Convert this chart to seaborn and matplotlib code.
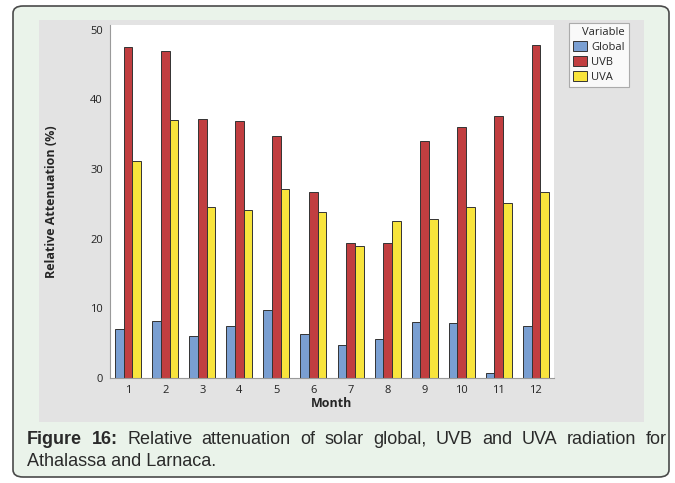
import pandas as pd
import seaborn as sns
import matplotlib.pyplot as plt
from matplotlib.patches import FancyBboxPatch, Rectangle

# Data
months = [1, 2, 3, 4, 5, 6, 7, 8, 9, 10, 11, 12]
global_att = [7.0, 8.2, 6.0, 7.4, 9.8, 6.3, 4.7, 5.6, 8.0, 7.9, 0.7, 7.5]
uvb_att = [47.5, 46.9, 37.2, 36.9, 34.7, 26.7, 19.4, 19.4, 34.1, 36.0, 37.6, 47.8]
uva_att = [31.2, 37.1, 24.6, 24.2, 27.2, 23.9, 19.0, 22.6, 22.9, 24.6, 25.1, 26.7]
variables = ["Global", "UVB", "UVA"]
colors = ["#7a9fd2", "#c13e40", "#f8e43c"]

df = pd.DataFrame({
    "Month": months * 3,
    "Variable": [v for v in variables for _ in months],
    "Value": global_att + uvb_att + uva_att,
})

sns.set_style("white")
plt.rcParams['font.family'] = ['Open Sans', 'DejaVu Sans']

W, H = 675, 483
fig = plt.figure(figsize=(W / 100, H / 100), dpi=100)
fig.patch.set_facecolor("white")

# outer rounded frame and grey chart panel
frame = FancyBboxPatch((13 / W, 6 / H), 656 / W, 471 / H,
                       boxstyle="round,pad=0,rounding_size=0.015",
                       transform=fig.transFigure, facecolor="#eaf3ea",
                       edgecolor="#4a4a4a", linewidth=1.2, zorder=0)
fig.patches.append(frame)
panel = Rectangle((39 / W, 1 - 422 / H), 605 / W, 402 / H,
                  transform=fig.transFigure, facecolor="#e3e3e3",
                  edgecolor="none", zorder=1)
fig.patches.append(panel)

ax = fig.add_axes([110 / W, 1 - 378 / H, 444 / W, 353 / H])
ax.set_zorder(2)
sns.barplot(data=df, x="Month", y="Value", hue="Variable", hue_order=variables,
            palette=colors, width=0.7, edgecolor="#333333", linewidth=0.7,
            saturation=1, ax=ax)

ax.set_ylim(0, 50.7)
ax.set_xlim(-0.49, 11.49)
ax.set_yticks([0, 10, 20, 30, 40, 50])
ax.set_facecolor("white")
for s in ["top", "right"]:
    ax.spines[s].set_visible(False)
for s in ["left", "bottom"]:
    ax.spines[s].set_color("#9a9a9a")
    ax.spines[s].set_linewidth(0.8)
ax.tick_params(axis="both", direction="out", length=3, width=0.7,
               color="#9a9a9a", labelsize=8, labelcolor="#222222", pad=2)
ax.set_xlabel("Month", fontsize=9, fontweight="bold", labelpad=1)
ax.set_ylabel("Relative Attenuation (%)", fontsize=9, fontweight="bold", labelpad=23)

leg = ax.legend(title="Variable", loc="upper left", bbox_to_anchor=(569 / W, 1 - 23 / H),
                bbox_transform=fig.transFigure, fontsize=8, title_fontsize=8,
                frameon=True, fancybox=False, edgecolor="#9a9a9a",
                handlelength=1.25, handleheight=1.0, handletextpad=0.4,
                labelspacing=0.3, borderpad=0.35, borderaxespad=0)
leg.get_frame().set_linewidth(0.8)
leg._legend_box.align = "right"

# caption, first line justified between the frame margins
cap_font = ['Liberation Sans', 'DejaVu Sans']
cap_size = 13
x0, x1 = 27, 667
y1, y2 = 1 - 440 / H, 1 - 462 / H
words = [("Figure", "bold"), ("16:", "bold")] + [
    (w, "normal") for w in
    "Relative attenuation of solar global, UVB and UVA radiation for".split()]
renderer = fig.canvas.get_renderer()
texts = []
total = 0
for w, wt in words:
    t = fig.text(0, y1, w, fontsize=cap_size, fontweight=wt, family=cap_font,
                 va="center", ha="left", color="#2a2a2a")
    wpx = t.get_window_extent(renderer).width
    texts.append((t, wpx))
    total += wpx
gap = (x1 - x0 - total) / (len(words) - 1)
x = x0
for t, wpx in texts:
    t.set_x(x / W)
    x += wpx + gap
fig.text(x0 / W, y2, "Athalassa and Larnaca.", fontsize=cap_size,
         family=cap_font, va="center", ha="left", color="#2a2a2a")

fig.savefig("out.png", dpi=100)
